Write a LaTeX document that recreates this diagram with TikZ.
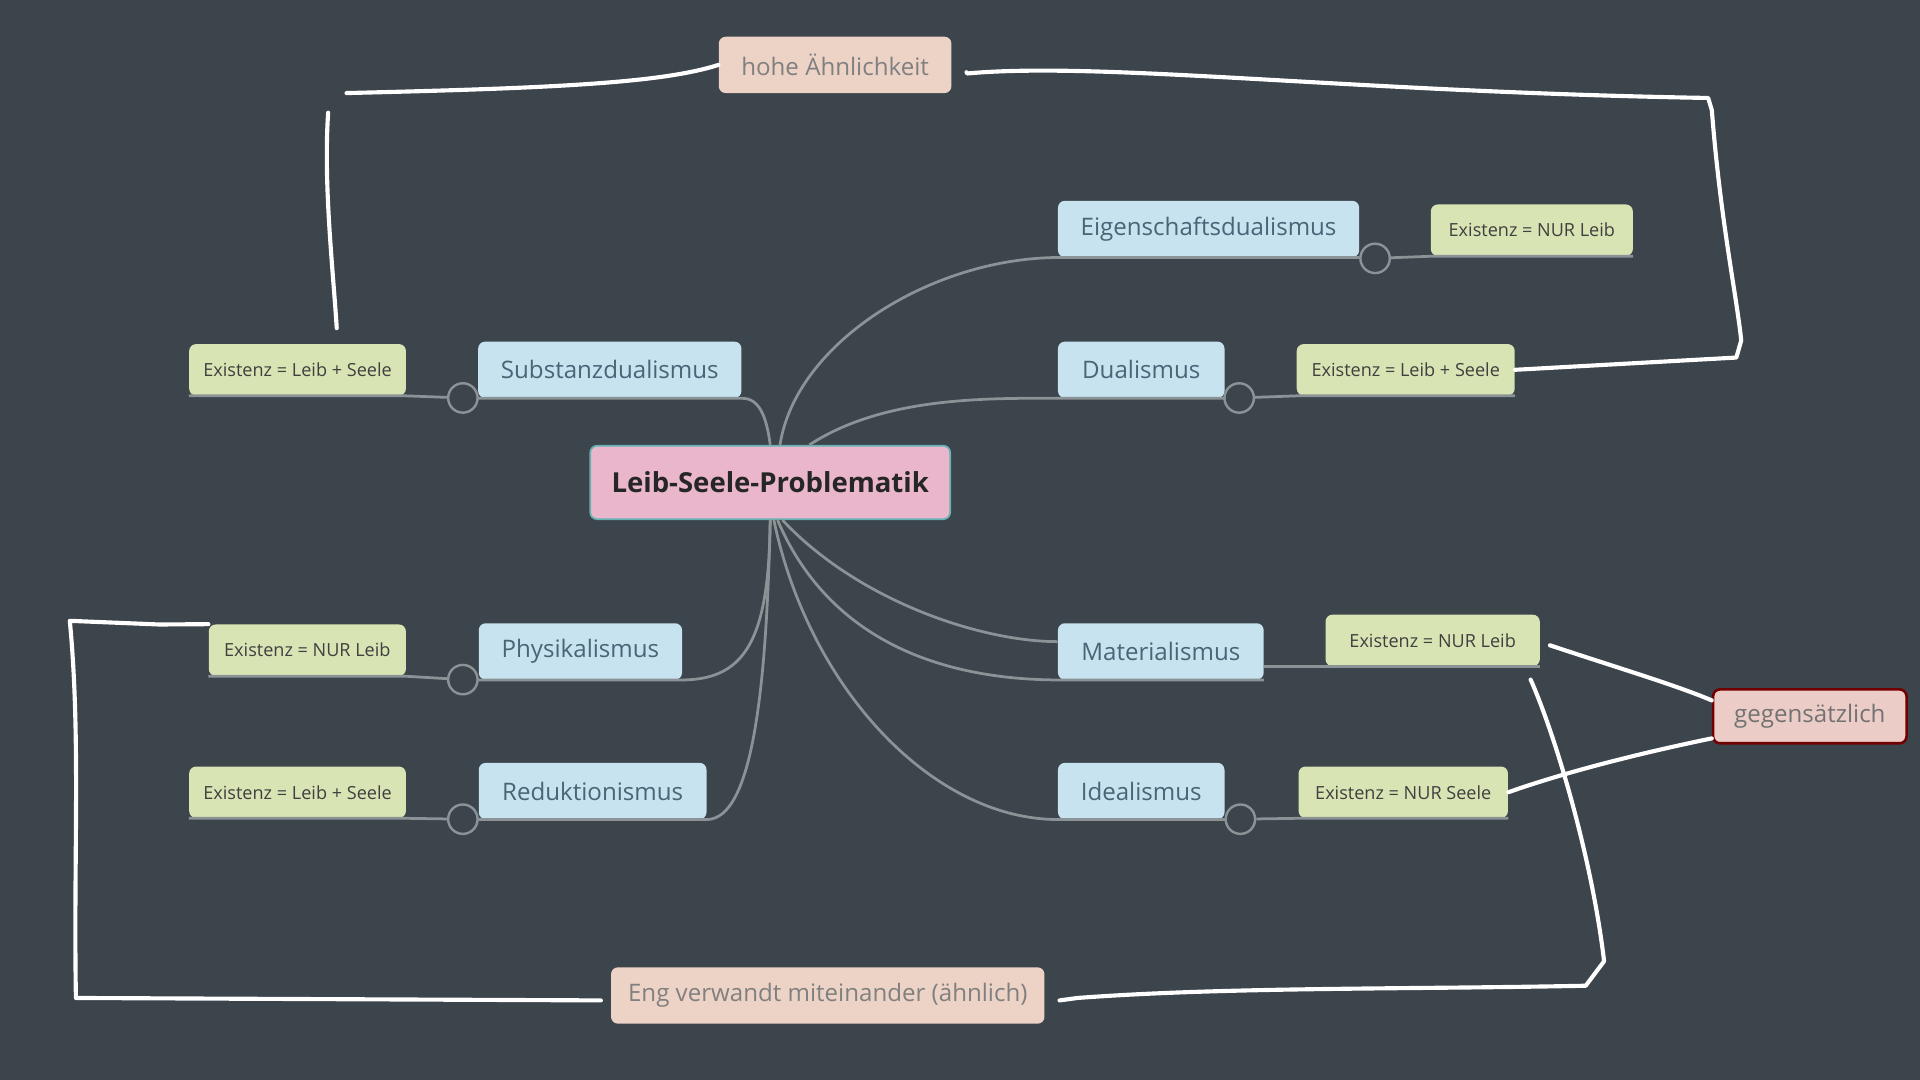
\documentclass[tikz,border=0pt]{standalone}
\usepackage{fontspec}
\setmainfont{Open Sans}
\definecolor{bg}{HTML}{3C444C}
\definecolor{topic}{HTML}{C6E3EF}
\definecolor{leaf}{HTML}{D8E4B4}
\definecolor{peach}{HTML}{EDD2C6}
\definecolor{centre}{HTML}{E9B6CB}
\definecolor{branch}{HTML}{8C9396}
\definecolor{topictext}{HTML}{4A6478}
\tikzset{
  wd/.style={minimum width=#1*0.025cm},
  box/.style={rounded corners=4pt, minimum height=46*0.025cm, inner sep=0pt},
  topicbox/.style={box, fill=topic, text=topictext, font=\fontsize{14}{17}\selectfont},
  leafbox/.style={box, fill=leaf, minimum height=42*0.025cm, text=black!75, font=\fontsize{10.5}{13}\selectfont},
  notebox/.style={box, fill=peach, text=black!50, font=\fontsize{14}{17}\selectfont},
  branchline/.style={draw=branch, line width=1.6pt},
  knob/.style={circle, draw=branch, fill=bg, line width=1.4pt, minimum size=24*0.025cm, inner sep=0pt},
  pen/.style={draw=white, line width=2.4pt, line cap=round, line join=round}
}
\begin{document}
\begin{tikzpicture}[x=0.025cm, y=-0.025cm]
  \fill[bg] (0,0) rectangle (1568,882);
  \useasboundingbox (0,0) rectangle (1568,882);

  % centre
  \node[box, wd=294, minimum height=60*0.025cm, fill=centre, draw=teal!60, line width=1pt,
        font=\bfseries\fontsize{16}{20}\selectfont, text=black!85] (leib) at (629,394) {Leib-Seele-Problematik};

  % topics
  \node[topicbox, wd=246] (eig) at (987,187) {Eigenschaftsdualismus};
  \node[topicbox, wd=215] (sub) at (498,302) {Substanzdualismus};
  \node[topicbox, wd=136] (dua) at (932,302) {Dualismus};
  \node[topicbox, wd=166] (phy) at (474,532) {Physikalismus};
  \node[topicbox, wd=168] (mat) at (948,532) {Materialismus};
  \node[topicbox, wd=186] (red) at (484,646) {Reduktionismus};
  \node[topicbox, wd=136] (ide) at (932,646) {Idealismus};

  % leaves
  \node[leafbox, wd=165] (eigx) at (1251,188) {Existenz = NUR Leib};
  \node[leafbox, wd=177] (subx) at (243,302) {Existenz = Leib + Seele};
  \node[leafbox, wd=178] (duax) at (1148,302) {Existenz = Leib + Seele};
  \node[leafbox, wd=161] (phyx) at (251,531) {Existenz = NUR Leib};
  \node[leafbox, wd=175] (matx) at (1170,523) {Existenz = NUR Leib};
  \node[leafbox, wd=177] (redx) at (243,647) {Existenz = Leib + Seele};
  \node[leafbox, wd=171] (idex) at (1146,647) {Existenz = NUR Seele};

  % notes
  \node[notebox, wd=190] (hohe) at (682,53) {hohe Ähnlichkeit};
  \node[notebox, wd=354] (eng) at (676,813) {Eng verwandt miteinander (ähnlich)};
  \node[box, wd=158, minimum height=44*0.025cm, fill=peach!80!centre, draw=red!45!black, line width=1.5pt,
        text=black!55, font=\fontsize{14}{17}\selectfont] (gegen) at (1478,585) {gegensätzlich};

  % branches
  \draw[branchline] (leib.north)++(8,0) .. controls (650,280) and (760,211) .. (eig.south west) -- (eig.south east);
  \draw[branchline] (leib.north) .. controls (626,340) and (620,325) .. (sub.south east) -- (sub.south west);
  \draw[branchline] (leib.north)++(32,0) .. controls (720,325) and (800,325) .. (dua.south west) -- (dua.south east);
  \draw[branchline] (leib.south)++(10,0) .. controls (700,490) and (800,524) .. (mat.south west |- 0,524);
  \draw[branchline] (leib.south)++(6,0) .. controls (680,530) and (780,555) .. (mat.south west) -- (mat.south east);
  \draw[branchline] (leib.south) .. controls (628,520) and (610,555) .. (phy.south east) -- (phy.south west);
  \draw[branchline] (leib.south) .. controls (626,560) and (615,669) .. (red.south east) -- (red.south west);
  \draw[branchline] (leib.south)++(3,0) .. controls (660,560) and (760,669) .. (ide.south west) -- (ide.south east);

  % knobs and leaf lines
  \node[knob] (keig) at (1123,211) {};
  \node[knob] (ksub) at (378,325) {};
  \node[knob] (kdua) at (1012,325) {};
  \node[knob] (kphy) at (378,555) {};
  \node[knob] (kred) at (378,669) {};
  \node[knob] (kide) at (1013,669) {};
  \draw[branchline] (eig.south east) -- (keig) -- (eigx.south west) -- (eigx.south east);
  \draw[branchline] (sub.south west) -- (ksub) -- (subx.south east) -- (subx.south west);
  \draw[branchline] (dua.south east) -- (kdua) -- (duax.south west) -- (duax.south east);
  \draw[branchline] (mat.south east |- matx.south west) -- (matx.south west) -- (matx.south east);
  \draw[branchline] (phy.south west) -- (kphy) -- (phyx.south east) -- (phyx.south west);
  \draw[branchline] (red.south west) -- (kred) -- (redx.south east) -- (redx.south west);
  \draw[branchline] (ide.south east) -- (kide) -- (idex.south west) -- (idex.south east);

  % hand-drawn marks
  \coordinate (a1) at (283,76);
  \coordinate (a2) at (268,92);
  \coordinate (a3) at (275,268);
  \draw[pen] (a1) .. controls (450,72) and (540,68) .. (hohe.west);
  \draw[pen] (a2) .. controls (264,150) and (272,220) .. (a3);
  \draw[pen] (hohe.east) ++(12,6) -- (790,60) .. controls (900,50) and (1100,75) .. (1395,80)
             -- (1398,90) .. controls (1405,180) and (1418,240) .. (1422,278) -- (1418,292) -- (duax.east);
  \draw[pen] (eng.west) ++(-8,4) -- (62,815) .. controls (60,700) and (66,600) .. (57,507)
             -- (130,510) -- (phyx.north west);
  \draw[pen] (eng.east) ++(12,4) -- (880,815) .. controls (1000,806) and (1150,808) .. (1295,805)
             -- (1310,785) .. controls (1300,700) and (1270,600) .. (1250,555);
  \draw[pen] (matx.east) ++(8,4) .. controls (1320,545) and (1370,560) .. (gegen.west |- 0,572);
  \draw[pen] (gegen.west |- 0,603) .. controls (1340,615) and (1280,630) .. (idex.east);
\end{tikzpicture}
\end{document}
